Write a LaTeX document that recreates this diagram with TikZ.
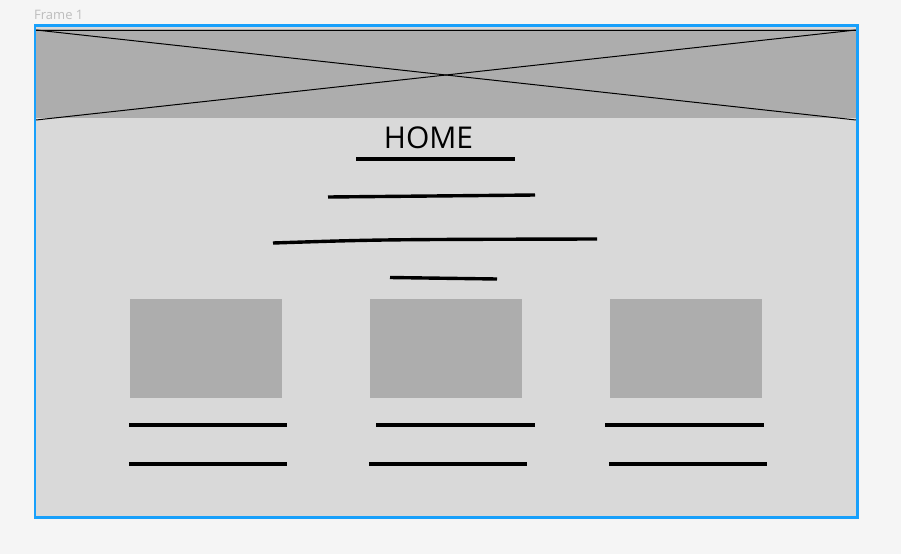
\documentclass[tikz,border=0pt]{standalone}
\usepackage{fontspec}
\setmainfont{Open Sans}
\definecolor{fondpage}{HTML}{F5F5F5}
\definecolor{fondcadre}{HTML}{D9D9D9}
\definecolor{bleucadre}{HTML}{18A0FB}
\definecolor{grisbloc}{HTML}{ADADAD}
\definecolor{grislabel}{HTML}{BDBDBD}
\begin{document}
\begin{tikzpicture}[x=1pt, y=-1pt,
    bloc/.style={fill=grisbloc, draw=none},
    trait/.style={line width=3.4pt, black},
    fin/.style={line width=1pt, black}]
    % Fond
    \fill[fondpage] (0,0) rectangle (901,554);
    \useasboundingbox (0,0) rectangle (901,554);
    \node[anchor=base west, inner sep=0pt, text=grislabel, font=\fontsize{13}{15}\selectfont] (label) at (34,19.5) {Frame 1};

    % Cadre
    \fill[fondcadre] (35,25.5) rectangle (857.5,517.5);

    % Image en tete
    \fill[bloc] (36,29) rectangle (856,118);
    \draw[fin] (36,30) -- (856,30) -- (856,120);
    \draw[fin] (36,30) -- (856,120);
    \draw[fin] (36,120) -- (856,30);

    \draw[bleucadre, line width=2.6pt] (35,25.5) rectangle (857.5,517.5);

    % Titre
    \node[inner sep=0pt, font=\fontsize{30}{36}\selectfont] (home) at (428.5,138) {HOME};

    % Traits du texte
    \draw[trait] (356,159) -- (515,159);
    \draw[trait] (328,197) -- (535,195);
    \draw[trait] (273,243) .. controls (380,239.5) .. (597,239);
    \draw[trait] (390,277.5) -- (497,279);

    % Blocs
    \fill[bloc] (130,299) rectangle (282,398);
    \fill[bloc] (370,299) rectangle (522,398);
    \fill[bloc] (610,299) rectangle (762,398);

    % Legendes
    \draw[trait] (129,425) -- (287,425);
    \draw[trait] (376,425) -- (535,425);
    \draw[trait] (605,425) -- (764,425);
    \draw[trait] (129,464) -- (287,464);
    \draw[trait] (369,464) -- (527,464);
    \draw[trait] (609,464) -- (767,464);
\end{tikzpicture}
\end{document}
